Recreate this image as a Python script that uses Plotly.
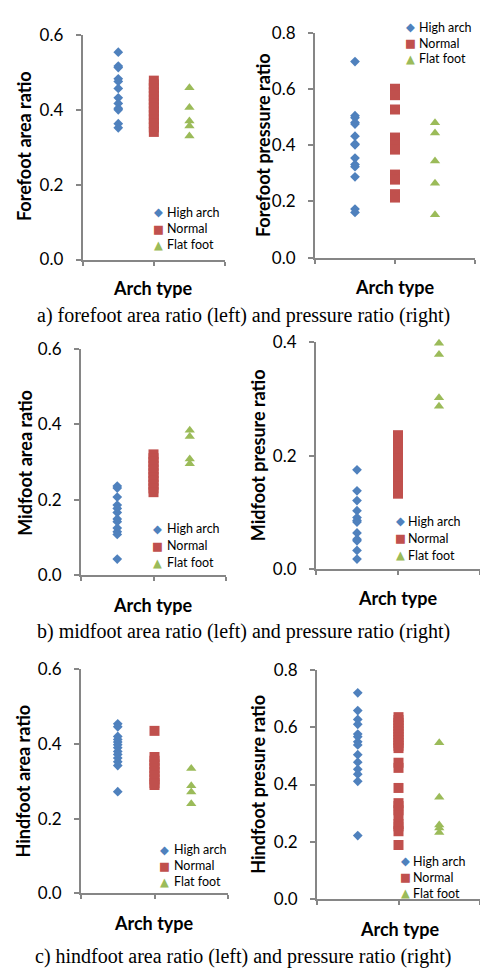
import plotly.graph_objects as go

W, H = 480, 977

# ---------------- data ----------------
groups = ["High arch", "Normal", "Flat foot"]
group_x = [1, 2, 3]

# a) forefoot
fore_area_high = [0.554, 0.517, 0.513, 0.483, 0.476, 0.457, 0.432, 0.417, 0.404, 0.400, 0.363, 0.352]
fore_area_normal = [0.478, 0.468, 0.458, 0.447, 0.437, 0.427, 0.417, 0.406, 0.396, 0.386, 0.375, 0.364, 0.353, 0.341]
fore_area_flat = [0.459, 0.406, 0.370, 0.357, 0.330]

fore_press_high = [0.699, 0.506, 0.499, 0.482, 0.476, 0.433, 0.405, 0.402, 0.355, 0.332, 0.324, 0.288, 0.173, 0.161]
fore_press_normal = [0.602, 0.590, 0.579, 0.528, 0.428, 0.414, 0.400, 0.385, 0.296, 0.278, 0.226, 0.214]
fore_press_flat = [0.481, 0.444, 0.344, 0.265, 0.153]

# b) midfoot
mid_area_high = [0.236, 0.231, 0.207, 0.186, 0.177, 0.166, 0.149, 0.142, 0.125, 0.115, 0.108, 0.043]
mid_area_normal = [0.320, 0.310, 0.300, 0.290, 0.280, 0.270, 0.260, 0.250, 0.240, 0.230, 0.220]
mid_area_flat = [0.384, 0.367, 0.308, 0.295]

mid_press_high = [0.175, 0.138, 0.121, 0.103, 0.091, 0.086, 0.083, 0.064, 0.053, 0.050, 0.033, 0.018]
mid_press_normal = [0.236, 0.225, 0.215, 0.205, 0.195, 0.185, 0.175, 0.165, 0.155, 0.145, 0.133]
mid_press_flat = [0.398, 0.378, 0.302, 0.287]

# c) hindfoot
hind_area_high = [0.454, 0.446, 0.420, 0.412, 0.405, 0.398, 0.390, 0.380, 0.372, 0.362, 0.352, 0.342, 0.272]
hind_area_normal = [0.435, 0.365, 0.355, 0.345, 0.335, 0.325, 0.315, 0.305, 0.295, 0.290]
hind_area_flat = [0.334, 0.288, 0.271, 0.240]

hind_press_high = [0.720, 0.658, 0.627, 0.610, 0.576, 0.567, 0.549, 0.538, 0.504, 0.478, 0.453, 0.436, 0.411, 0.222]
hind_press_normal = [0.635, 0.625, 0.615, 0.605, 0.595, 0.585, 0.575, 0.565, 0.555, 0.545, 0.535, 0.527,
                     0.476, 0.458, 0.388, 0.335, 0.325, 0.310, 0.291, 0.262, 0.254, 0.237, 0.189]
hind_press_flat = [0.546, 0.356, 0.259, 0.248, 0.233]

y_titles = ["Forefoot area ratio", "Forefoot pressure ratio",
            "Midfoot area ratio", "Midfoot presure ratio",
            "Hindfoot area ratio", "Hindfoot presure ratio"]
x_title = "Arch type"
captions = ["a) forefoot area ratio (left) and pressure ratio (right)",
            "b) midfoot area ratio (left) and pressure ratio (right)",
            "c) hindfoot area ratio (left) and pressure ratio (right)"]
y_max = [0.6, 0.8, 0.6, 0.4, 0.6, 0.8]

series = [
    (fore_area_high, fore_area_normal, fore_area_flat),
    (fore_press_high, fore_press_normal, fore_press_flat),
    (mid_area_high, mid_area_normal, mid_area_flat),
    (mid_press_high, mid_press_normal, mid_press_flat),
    (hind_area_high, hind_area_normal, hind_area_flat),
    (hind_press_high, hind_press_normal, hind_press_flat),
]

# ---------------- styling / geometry (pixels) ----------------
colors = ["#4F81BD", "#C0504D", "#9BBB59"]
symbols = ["diamond", "square", "triangle-up"]
legend_glyphs = ["\u25C6", "\u25A0", "\u25B2"]
sizes = [7.5, 10, 9]

# plot-area boxes: x0, x1, ytop, ybottom
boxes = [
    (82.7, 225, 24.5, 254),
    (315, 475, 22.7, 252),
    (81, 226, 345, 576.7),
    (316, 480, 338.3, 570.5),
    (81, 228, 672.7, 901.7),
    (317, 480, 673.3, 907.7),
]
# legend: symbol x, text-left x, row center ys
legend_geo = [
    (158, 165.7, (205.7, 222.3, 239)),
    (410, 417.7, (16.5, 32.8, 49)),
    (157, 165.7, (529.3, 546.5, 563.7)),
    (400, 407.3, (521.7, 539.0, 556.3)),
    (164, 172.7, (857.3, 873.5, 889.7)),
    (405.7, 412.3, (869, 885.2, 901.4)),
]
ytitle_pos = [(24, 138), (263, 137), (25, 461.7), (258, 454), (23, 787.5), (258, 790.8)]
xtitle_pos = [(153, 283), (395, 281.7), (152.5, 606.7), (397.5, 600), (154, 931.7), (400, 938.3)]
caption_pos = [(243, 311), (243, 634), (243, 966)]

AX = "#868686"
FONT = "Lato"

def fx(x):
    return x / W

def fy(y):
    return 1 - y / H

fig = go.Figure()
layout = dict(
    width=W, height=H, margin=dict(l=0, r=0, t=0, b=0),
    paper_bgcolor="white", plot_bgcolor="white",
    font=dict(family=FONT, color="black"),
    showlegend=False,
    annotations=[],
)

def ann(text, x, y, size, family=FONT, color="black", angle=0, xanchor="center", pad=1):
    layout["annotations"].append(dict(
        text=text, x=fx(x), y=fy(y), xref="paper", yref="paper", showarrow=False,
        textangle=angle, xanchor=xanchor, yanchor="middle", borderpad=pad,
        font=dict(family=family, size=size, color=color),
    ))

for i in range(6):
    n = i + 1
    xa = "x" if n == 1 else f"x{n}"
    ya = "y" if n == 1 else f"y{n}"
    for g in range(3):
        vals = series[i][g]
        fig.add_trace(go.Scatter(
            x=[group_x[g]] * len(vals), y=vals, mode="markers", name=groups[g],
            marker=dict(symbol=symbols[g], color=colors[g], size=sizes[g], line=dict(width=0)),
            xaxis=xa, yaxis=ya, cliponaxis=False,
        ))
    x0, x1, yt, yb = boxes[i]
    xkey = "xaxis" if n == 1 else f"xaxis{n}"
    ykey = "yaxis" if n == 1 else f"yaxis{n}"
    layout[xkey] = dict(
        domain=[fx(x0), min(fx(x1), 1.0)], range=[0, 4], anchor=ya,
        showgrid=False, zeroline=False, showline=True, linecolor=AX, linewidth=2,
        ticks="outside", ticklen=4, tickwidth=2, tickcolor=AX,
        tickvals=[0, 2, 4], showticklabels=False, fixedrange=True,
    )
    tv = [round(v * 0.2, 1) for v in range(int(round(y_max[i] / 0.2)) + 1)]
    layout[ykey] = dict(
        domain=[fy(yb), fy(yt)], range=[0, y_max[i]], anchor=xa,
        showgrid=False, zeroline=False, showline=True, linecolor=AX, linewidth=2,
        ticks="outside", ticklen=5, tickwidth=2, tickcolor=AX,
        tickvals=tv, tickformat=".1f", ticklabelstandoff=9,
        tickfont=dict(family=FONT, size=17, color="black"), fixedrange=True,
    )
    # legend (symbol + label per row)
    sx, tx, rows = legend_geo[i]
    for g in range(3):
        ann(legend_glyphs[g], sx, rows[g], 11.5, family="DejaVu Sans", color=colors[g], pad=0)
        ann(groups[g], tx, rows[g], 12.5, xanchor="left", pad=0)
    tx, ty = ytitle_pos[i]
    ann(f"<b>{y_titles[i]}</b>", tx, ty, 18, angle=-90)
    tx, ty = xtitle_pos[i]
    ann(f"<b>{x_title}</b>", tx, ty, 18)

for c, (cx, cy) in zip(captions, caption_pos):
    ann(c, cx, cy, 20, family="Liberation Serif")

fig.update_layout(**layout)
fig.write_html("out.html")
